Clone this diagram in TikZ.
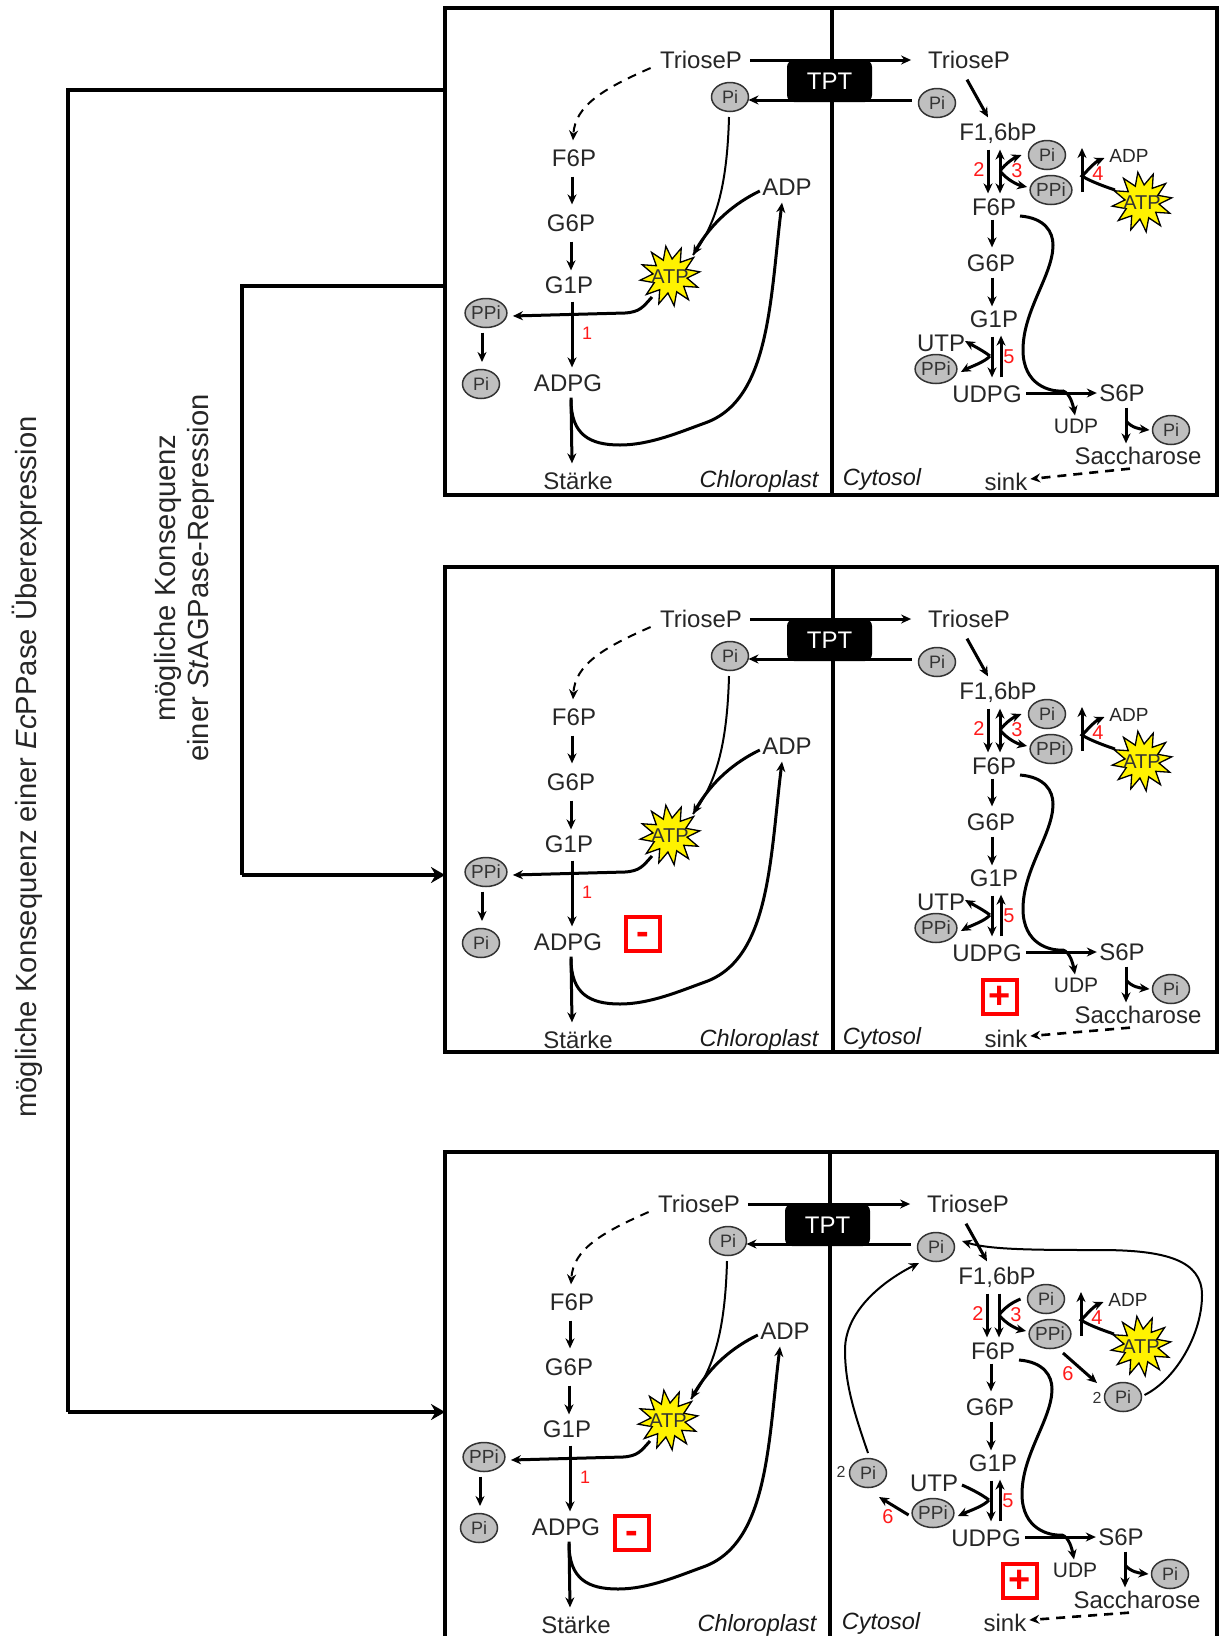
\documentclass[tikz,border=0pt]{standalone}
\usepackage{fontspec}
\setmainfont{Liberation Sans}
\usetikzlibrary{arrows.meta,shapes.geometric,calc}
\newif\ifthirdpanel
\tikzset{
  >={Stealth[length=10pt,width=9pt]},
  txt/.style={inner sep=0pt,outer sep=0pt,text height=17.3pt,text depth=0pt,font=\fontsize{24}{24}\selectfont,text=black!85},
  txts/.style={txt,text height=13.7pt,font=\fontsize{19}{19}\selectfont},
  txtm/.style={txt,text height=15.1pt,font=\fontsize{21}{21}\selectfont},
  ital/.style={txt,font=\fontsize{23.5}{24}\selectfont\itshape,text=black!90},
  num/.style={txt,text height=14.4pt,font=\fontsize{20}{20}\selectfont,text=red!90!white},
  numo/.style={txt,text height=11.5pt,font=\fontsize{16}{16}\selectfont,text=black!80},
  pellipse/.style={ellipse,draw=black!80,line width=1.5pt,fill=black!25,minimum width=37pt,minimum height=29pt,inner sep=0pt,outer sep=0pt,font=\fontsize{18}{18}\selectfont,text=black!80},
  ppellipse/.style={pellipse,font=\fontsize{19}{19}\selectfont},
  burst/.style={star,star points=12,star point ratio=1.75,draw=black,line width=1.3pt,fill=yellow,minimum size=60pt,inner sep=0pt,outer sep=0pt,shape border rotate=8,
     label={[txt,text height=14.4pt,font=\fontsize{20}{20}\selectfont,text=black!80]center:ATP}},
  arr/.style={->,line width=3pt,black},
  arrn/.style={line width=3pt,black},
  thin arr/.style={line width=2pt,black},
  dasharr/.style={->,line width=2.6pt,dash pattern=on 9pt off 7pt,black},
  panelbox/.style={draw=black,line width=3.5pt,inner sep=0pt,outer sep=0pt,fill=none},
  divider/.style={line width=3.5pt,black},
  tptbox/.style={fill=black,rounded corners=7pt,minimum width=85pt,minimum height=42pt,inner sep=0pt,text=white,font=\fontsize{24}{24}\selectfont},
  signbox/.style={draw=red,line width=4.5pt,minimum size=34pt,inner sep=0pt,text=red,font=\fontsize{38}{38}\selectfont\bfseries},
  minusbox/.style={signbox,text height=25.5pt,text depth=4.5pt},
  outer/.style={line width=3.5pt,black},
  outerarr/.style={outer,-{Stealth[length=14pt,width=16pt]}},
  rotlabel/.style={rotate=90,font=\fontsize{29.2}{33}\selectfont,align=center,text=black!85,inner sep=0pt},
}
\newcommand{\SinkY}{482}
\newcommand{\LeftSide}{%
  \node[txt] (trioL) at (701,60) {TrioseP};
  \node[pellipse] (piL) at (730,97) {Pi};
  \node[txt] (f6pL) at (574,158) {F6P};
  \node[txt] (g6pL) at (571,223) {G6P};
  \node[txt] (g1pL) at (569,285) {G1P};
  \node[txt] (adpgL) at (568,383) {ADPG};
  \node[txt] (staerke) at (578,481) {Stärke};
  \node[ital] (chloro) at (759,479) {Chloroplast};
  \node[txt] (adpL) at (787,187) {ADP};
  \node[burst] (atpL) at (670,276) {};
  \node[ppellipse] (ppiL) at (486,313) {PPi};
  \node[pellipse] (piLb) at (481,384) {Pi};
  \node[num,text height=13pt,font=\fontsize{18}{18}\selectfont] (nOne) at (587,333) {1};
  \draw[dasharr,line width=2pt] ([shift={(-9.5,8)}]trioL.west) .. controls (605,88) and (575,105) .. ([shift={(-1,-9)}]f6pL.north);
  \draw[thin arr] ([shift={(-1,5.5)}]piL.south) .. controls (727,190) and (715,225) .. ([shift={(23,-21)}]atpL.center);
  \draw[arr] ([shift={(-2.5,4)}]adpL.west) .. controls (735,203) and (712,222) .. ([shift={(23,-21)}]atpL.center);
  \draw[arr] ([shift={(-18,21)}]atpL.center) .. controls (643,307) and (640,312) .. (625,313) -- ([shift={(6,3)}]ppiL.east);
  \draw[arr] ([shift={(-2,10)}]f6pL.south) -- ([shift={(1,-10)}]g6pL.north);
  \draw[arr] ([shift={(0,10)}]g6pL.south) -- ([shift={(2,-6)}]g1pL.north);
  \draw[arr] ([shift={(3,8)}]g1pL.south) -- ([shift={(4,-7)}]adpgL.north);
  \draw[arr] ([shift={(-4,5)}]ppiL.south) -- ([shift={(1,-7.5)}]piLb.north);
  \draw[arr] ([shift={(3,6)}]adpgL.south) -- ([shift={(-6,-9)}]staerke.north);
  \draw[arr] ([shift={(3,8)}]adpgL.south) .. controls (571,435) and (590,445) .. (620,445) .. controls (650,445) and (680,432) .. (705,423) .. controls (770,400) and (770,300) .. ([shift={(-5,7)}]adpL.south);
}
\newcommand{\RightSide}{%
  \node[txt] (trioR) at (969,60) {TrioseP};
  \node[pellipse] (piR) at (937,103) {Pi};
  \node[txt] (f16) at (998,132) {F1,6bP};
  \node[pellipse] (piRa) at (1047,155) {Pi};
  \node[ppellipse] (ppiRa) at (1051,190) {PPi};
  \node[txt] (f6pR) at (994,207) {F6P};
  \node[txts] (adpR) at (1129,156) {ADP};
  \node[burst] (atpR) at (1142,202) {};
  \node[txt] (g6pR) at (991,263) {G6P};
  \node[txt] (g1pR) at (994,319) {G1P};
  \ifthirdpanel
    \node[txt] (utp) at (935,339) {UTP};
    \node[ppellipse] (ppiRb) at (934,369) {PPi};
  \else
    \node[txt] (utp) at (941,343) {UTP};
    \node[ppellipse] (ppiRb) at (936,369) {PPi};
  \fi
  \node[txt] (udpg) at (987,394) {UDPG};
  \node[txt] (s6p) at (1122,393) {S6P};
  \node[txtm] (udp) at (1076,426) {UDP};
  \node[pellipse] (piRc) at (1171,430) {Pi};
  \node[txt] (sacch) at (1138,456) {Saccharose};
  \node[txt] (sink) at (1006,\SinkY) {sink};
  \node[ital] (cyto) at (882,477) {Cytosol};
  \node[num] (nTwo) at (979,169) {2};
  \node[num] (nThree) at (1017,170) {3};
  \node[num] (nFour) at (1098,173) {4};
  \node[num] (nFive) at (1009,356) {5};
  \coordinate (jA) at (1000,171);
  \coordinate (jC) at (1082,176);
  \coordinate (jV1) at (1082,192);
  \coordinate (jV2) at (1082,148);
  \coordinate (jD) at (990,356);
  \coordinate (jF) at (1126,421);
  \draw[arr] ([shift={(-2,11)}]trioR.south) -- ([shift={(-10,-6)}]f16.north);
  \draw[arr] ([shift={(-10,9)}]f16.south) -- ([shift={(-6,-5)}]f6pR.north);
  \ifthirdpanel
    \draw[arr] ([shift={(2,9)}]f16.south) -- ([shift={(6,-5)}]f6pR.north);
    \draw[arrn] (jA) .. controls (1006,163) and (1014,158) .. ([shift={(-7,0)}]piRa.west);
  \else
    \draw[arr,<->] ([shift={(2,9)}]f16.south) -- ([shift={(6,-5)}]f6pR.north);
    \draw[arr] (jA) .. controls (1006,163) and (1014,158) .. ([shift={(-7,0)}]piRa.west);
  \fi
  \draw[arr] (jA) .. controls (1007,180) and (1018,185) .. ([shift={(-3,-3)}]ppiRa.west);
  \draw[arr] (jV1) -- (jV2);
  \draw[arr] ([shift={(-27,-12)}]atpR.center) .. controls (1100,185) and (1088,180) .. (jC) .. controls (1088,170) and (1095,162) .. ([shift={(-5,2)}]adpR.west);
  \draw[arr] ([shift={(-2,4)}]f6pR.south) -- ([shift={(1,-7)}]g6pR.north);
  \draw[arr] ([shift={(1,6)}]g6pR.south) -- ([shift={(-2,-4)}]g1pR.north);
  \draw[arr] ([shift={(-2,9)}]g1pR.south) -- ([shift={(5,-8)}]udpg.north);
  \draw[arr] ([shift={(14,-8)}]udpg.north) -- ([shift={(7,8)}]g1pR.south);
  \ifthirdpanel
    \draw[arrn] ([shift={(4,2)}]utp.east) .. controls (972,345) and (982,350) .. (jD);
  \else
    \draw[arr] (jD) .. controls (982,350) and (972,345) .. ([shift={(0,-2)}]utp.east);
  \fi
  \draw[arr] (jD) .. controls (985,362) and (970,367) .. ([shift={(4,3)}]ppiRb.east);
  \draw[arr] ([shift={(4.5,-1)}]udpg.east) -- ([shift={(-2.5,0)}]s6p.west);
  \draw[arr] ([shift={(4,9)}]f6pR.east) .. controls (1045,218) and (1053,232) .. (1053,245) .. controls (1053,275) and (1023,310) .. (1023,350) .. controls (1023,385) and (1050,392) .. (1063,391) .. controls (1070,393) and (1073,405) .. ([shift={(-1,-3)}]udp.north);
  \draw[arr] ([shift={(4,6)}]s6p.south) -- ([shift={(-12,-4)}]sacch.north);
  \draw[arr] (jF) .. controls (1132,428) and (1140,429) .. ([shift={(-3,0)}]piRc.west);
  \draw[dasharr] ([shift={(-8,4)}]sacch.south) -- ([shift={(3,-3)}]sink.east);
}
\newcommand{\PanelContent}[4]{% prefix, dxL, dxR, dy
  \begin{scope}[shift={(#2,#4)},name prefix=#1-]\LeftSide\end{scope}
  \begin{scope}[shift={(#3,#4)},name prefix=#1-]\RightSide\end{scope}
  \draw[arr] ([xshift=8pt]#1-trioL.east) -- ([xshift=-17pt]#1-trioR.west);
  \draw[arr] ([shift={(-7,-3)}]#1-piR.west) -- ([shift={(0,3)}]#1-piL.east);
  \node[tptbox] (#1-tpt) at ($(#1-trioL.center)+(128.5,21)$) {TPT};
}
\begin{document}
\begin{tikzpicture}[x=1pt,y=-1pt]
  \useasboundingbox (0,0) rectangle (1219,1636);
  \clip (0,0) rectangle (1219,1636);
  % panels
  \node[panelbox,minimum width=772pt,minimum height=487pt] (box1) at (831,251.5) {};
  \node[panelbox,minimum width=772pt,minimum height=485pt] (box2) at (831,809.5) {};
  \node[panelbox,minimum width=772pt,minimum height=560pt] (box3) at (831,1432) {};
  \draw[divider] (box1.north -| 832,0) -- (box1.south -| 832,0);
  \draw[divider] (box2.north -| 833,0) -- (box2.south -| 833,0);
  \draw[divider] (box3.north -| 830,0) -- (box3.south -| 830,0);
  % panel contents
  \thirdpanelfalse
  \PanelContent{a}{0}{0}{0}
  \renewcommand{\SinkY}{480}
  \PanelContent{b}{0}{0}{559}
  \thirdpaneltrue
  \renewcommand{\SinkY}{479}
  \PanelContent{c}{-2}{-1}{1144}
  % sign boxes
  \node[minusbox] (minusB) at (643,934) {-};
  \node[signbox] (plusB) at (1000,997) {+};
  \node[minusbox] (minusC) at (632,1533) {-};
  \node[signbox] (plusC) at (1020,1581) {+};
  % extra phosphate recycling of panel 3
  \node[pellipse] (piX) at (1123,1397) {Pi};
  \node[numo] (twoX) at (1097,1398) {2};
  \node[pellipse] (piY) at (868,1473) {Pi};
  \node[numo] (twoY) at (841,1472) {2};
  \node[num] (sixX) at (1068,1373) {6};
  \node[num] (sixY) at (888,1516) {6};
  \draw[arr] ([shift={(13,4.5)}]c-ppiRa.south) -- ([shift={(-7.5,-14)}]piX.west);
  \draw[arr] ([shift={(-3.5,2)}]c-ppiRb.west) -- ([shift={(11,9.5)}]piY.south);
  \draw[->,thin arr] ([shift={(3,-2)}]piX.east) .. controls (1175,1380) and (1202,1335) .. (1202,1295) .. controls (1202,1260) and (1165,1250) .. (1100,1250) .. controls (1040,1250) and (990,1250) .. ([shift={(7.5,-6)}]c-piR.east);
  \draw[->,thin arr] ([shift={(0,-5.5)}]piY.north) .. controls (855,1415) and (845,1385) .. (845,1350) .. controls (845,1310) and (885,1280) .. ([shift={(-17,1.5)}]c-piR.south);
  % outer brackets
  \coordinate (outA) at (68,90);
  \coordinate (outB) at (68,1412);
  \coordinate (outC) at (242,286);
  \coordinate (outD) at (242,875);
  \draw[outer] (outA -| box1.west) -- (outA) -- (outB);
  \draw[outerarr] (outB) -- (outB -| box3.west);
  \draw[outer] (outC -| box1.west) -- (outC) -- (outD);
  \draw[outerarr] (outD) -- (outD -| box2.west);
  \node[rotlabel] (labA) at (27,767) {mögliche Konsequenz einer \textit{Ec}PPase Überexpression};
  \node[rotlabel] (labB) at (184,578) {mögliche Konsequenz\\einer \textit{St}AGPase-Repression};
\end{tikzpicture}
\end{document}
